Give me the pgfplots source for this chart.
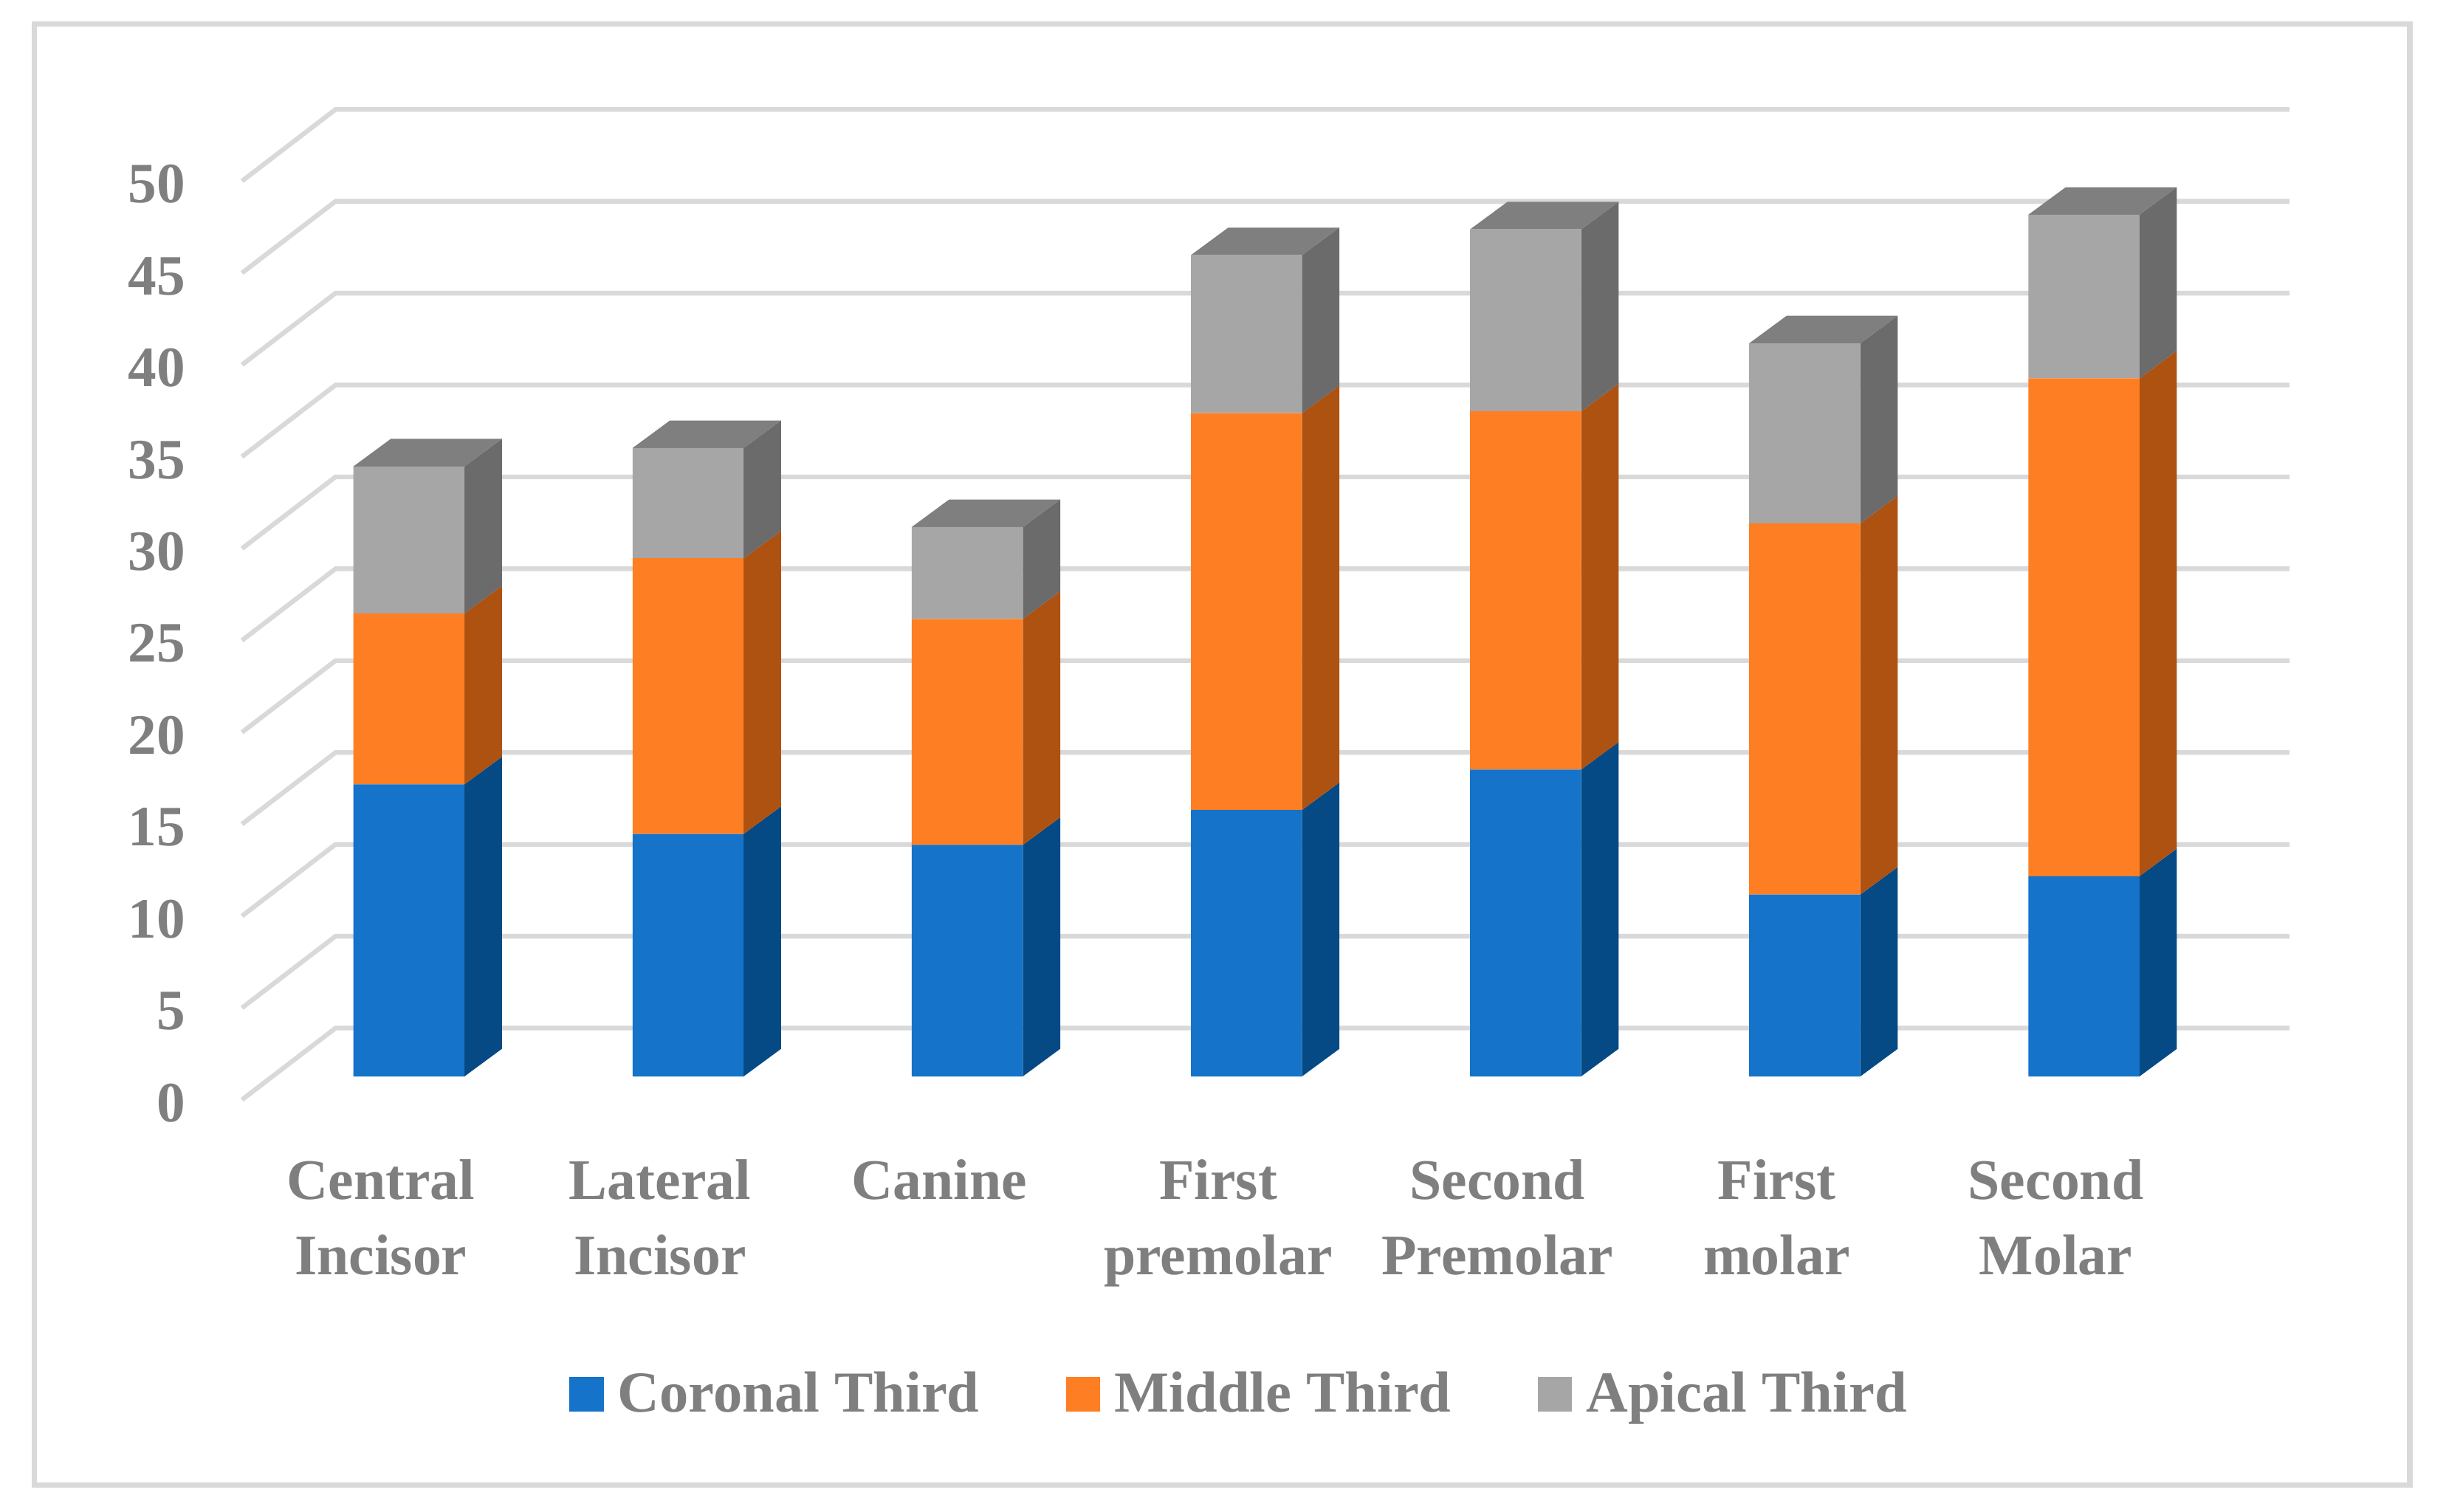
\documentclass[border=0pt]{standalone}
\usepackage{fontspec}
\setmainfont{Liberation Serif}
\usepackage{pgfplots}
\pgfplotsset{compat=1.18}
\definecolor{blueF}{HTML}{1573C9}
\definecolor{blueS}{HTML}{064A85}
\definecolor{orangeF}{HTML}{FE7F23}
\definecolor{orangeS}{HTML}{AE5212}
\definecolor{grayF}{HTML}{A6A6A6}
\definecolor{grayS}{HTML}{6B6B6B}
\definecolor{grayT}{HTML}{7F7F7F}
\definecolor{gridc}{HTML}{D9D9D9}
\definecolor{textc}{HTML}{7F7F7F}
\pgfplotsset{
  base/.style={
    scale only axis, width=784pt, height=484.5pt,
    xmin=-1.4637, xmax=7.296, ymin=-23.68, ymax=58.57,
    clip=false,
  },
  gl/.style={color=gridc, line width=1.5pt, mark=none, forget plot},
  bs/.style={fill=blueS, draw=none, mark=none, forget plot},
  os/.style={fill=orangeS, draw=none, mark=none, forget plot},
  gs/.style={fill=grayS, draw=none, mark=none, forget plot},
  gt/.style={fill=grayT, draw=none, mark=none, forget plot},
}
\begin{document}
\begin{tikzpicture}
% back wall, side faces and tops
\begin{axis}[base, hide axis]
\draw[gridc, line width=1.7pt] (rel axis cs:0.0140,0.0176) rectangle (rel axis cs:0.9853,0.9845);
\addplot[gl] coordinates {(-0.598,-1.27)(-0.263,2.63)(6.737,2.63)};
\addplot[gl] coordinates {(-0.598,3.73)(-0.263,7.63)(6.737,7.63)};
\addplot[gl] coordinates {(-0.598,8.73)(-0.263,12.63)(6.737,12.63)};
\addplot[gl] coordinates {(-0.598,13.73)(-0.263,17.63)(6.737,17.63)};
\addplot[gl] coordinates {(-0.598,18.73)(-0.263,22.63)(6.737,22.63)};
\addplot[gl] coordinates {(-0.598,23.73)(-0.263,27.63)(6.737,27.63)};
\addplot[gl] coordinates {(-0.598,28.73)(-0.263,32.63)(6.737,32.63)};
\addplot[gl] coordinates {(-0.598,33.73)(-0.263,37.63)(6.737,37.63)};
\addplot[gl] coordinates {(-0.598,38.73)(-0.263,42.63)(6.737,42.63)};
\addplot[gl] coordinates {(-0.598,43.73)(-0.263,47.63)(6.737,47.63)};
\addplot[gl] coordinates {(-0.598,48.73)(-0.263,52.63)(6.737,52.63)};
% Central Incisor
\addplot[bs] coordinates {(0.199,0)(0.333,1.5)(0.333,17.4)(0.199,15.9)};
\addplot[os] coordinates {(0.199,15.9)(0.333,17.4)(0.333,26.7)(0.199,25.2)};
\addplot[gs] coordinates {(0.199,25.2)(0.333,26.7)(0.333,34.7)(0.199,33.2)};
\addplot[gt] coordinates {(-0.199,33.2)(0.199,33.2)(0.333,34.7)(-0.065,34.7)};
% Lateral Incisor
\addplot[bs] coordinates {(1.199,0)(1.333,1.5)(1.333,14.7)(1.199,13.2)};
\addplot[os] coordinates {(1.199,13.2)(1.333,14.7)(1.333,29.7)(1.199,28.2)};
\addplot[gs] coordinates {(1.199,28.2)(1.333,29.7)(1.333,35.7)(1.199,34.2)};
\addplot[gt] coordinates {(0.801,34.2)(1.199,34.2)(1.333,35.7)(0.935,35.7)};
% Canine
\addplot[bs] coordinates {(2.199,0)(2.333,1.5)(2.333,14.1)(2.199,12.6)};
\addplot[os] coordinates {(2.199,12.6)(2.333,14.1)(2.333,26.4)(2.199,24.9)};
\addplot[gs] coordinates {(2.199,24.9)(2.333,26.4)(2.333,31.4)(2.199,29.9)};
\addplot[gt] coordinates {(1.801,29.9)(2.199,29.9)(2.333,31.4)(1.935,31.4)};
% First premolar
\addplot[bs] coordinates {(3.199,0)(3.333,1.5)(3.333,16.0)(3.199,14.5)};
\addplot[os] coordinates {(3.199,14.5)(3.333,16.0)(3.333,37.6)(3.199,36.1)};
\addplot[gs] coordinates {(3.199,36.1)(3.333,37.6)(3.333,46.2)(3.199,44.7)};
\addplot[gt] coordinates {(2.801,44.7)(3.199,44.7)(3.333,46.2)(2.935,46.2)};
% Second Premolar
\addplot[bs] coordinates {(4.199,0)(4.333,1.5)(4.333,18.2)(4.199,16.7)};
\addplot[os] coordinates {(4.199,16.7)(4.333,18.2)(4.333,37.7)(4.199,36.2)};
\addplot[gs] coordinates {(4.199,36.2)(4.333,37.7)(4.333,47.6)(4.199,46.1)};
\addplot[gt] coordinates {(3.801,46.1)(4.199,46.1)(4.333,47.6)(3.935,47.6)};
% First molar
\addplot[bs] coordinates {(5.199,0)(5.333,1.5)(5.333,11.4)(5.199,9.9)};
\addplot[os] coordinates {(5.199,9.9)(5.333,11.4)(5.333,31.6)(5.199,30.1)};
\addplot[gs] coordinates {(5.199,30.1)(5.333,31.6)(5.333,41.4)(5.199,39.9)};
\addplot[gt] coordinates {(4.801,39.9)(5.199,39.9)(5.333,41.4)(4.935,41.4)};
% Second Molar
\addplot[bs] coordinates {(6.199,0)(6.333,1.5)(6.333,12.4)(6.199,10.9)};
\addplot[os] coordinates {(6.199,10.9)(6.333,12.4)(6.333,39.5)(6.199,38.0)};
\addplot[gs] coordinates {(6.199,38.0)(6.333,39.5)(6.333,48.4)(6.199,46.9)};
\addplot[gt] coordinates {(5.801,46.9)(6.199,46.9)(6.333,48.4)(5.935,48.4)};
\end{axis}
% front faces, ticks and legend
\begin{axis}[base,
  ybar stacked,
  bar width=35.6pt,
  axis line style={draw=none},
  major tick length=0pt,
  ytick={0,5,...,50},
  xtick={0,...,6},
  xticklabels={{Central\\Incisor},{Lateral\\Incisor},{Canine},{First\\premolar},{Second\\Premolar},{First\\molar},{Second\\Molar}},
  /pgf/number format/assume math mode=true,
  yticklabel style={font=\fontsize{18.3}{18.3}\selectfont\bfseries, text=textc, anchor=east, inner sep=0pt, xshift=59.5pt, yshift=-8.5pt},
  xticklabel style={font=\fontsize{18.4}{24}\selectfont\bfseries, text=textc, align=center, anchor=north, inner sep=0pt, xshift=-9pt, yshift=113pt},
  legend style={at={(rel axis cs:0.5075,0.0775)}, anchor=center, draw=none, fill=none,
    font=\fontsize{18.6}{18.6}\selectfont\bfseries, text=textc,
    legend columns=3, /tikz/every even column/.style={column sep=25.75pt}},
  legend image code/.code={\fill[#1] (0pt,-5.5pt) rectangle (11pt,5.5pt); \path (13.5pt,0pt);},
]
\addplot[fill=blueF, draw=none] coordinates {(0,15.9)(1,13.2)(2,12.6)(3,14.5)(4,16.7)(5,9.9)(6,10.9)};
\addplot[fill=orangeF, draw=none] coordinates {(0,9.3)(1,15.0)(2,12.3)(3,21.6)(4,19.5)(5,20.2)(6,27.1)};
\addplot[fill=grayF, draw=none] coordinates {(0,8.0)(1,6.0)(2,5.0)(3,8.6)(4,9.9)(5,9.8)(6,8.9)};
\legend{Coronal Third, Middle Third, Apical Third}
\end{axis}
\end{tikzpicture}
\end{document}
